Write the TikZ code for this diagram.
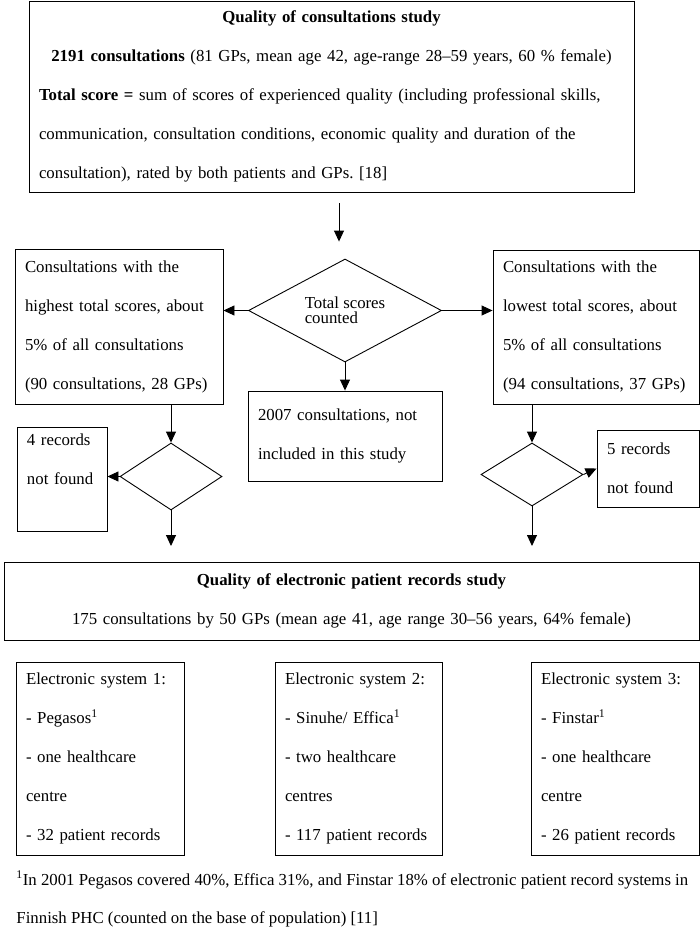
\documentclass[tikz,border=0pt]{standalone}
\usepackage{fontspec}
\setmainfont{Liberation Serif}
\frenchspacing
\usetikzlibrary{arrows.meta,shapes.geometric}
\begin{document}
\begin{tikzpicture}[x=1pt, y=-1pt, line width=0.9pt,
    boxStyle/.style={draw, align=left, inner xsep=10pt, inner ysep=0pt, font=\fontsize{16.8}{39}\selectfont},
    decStyle/.style={draw, diamond, aspect=2, inner sep=0pt, align=left, font=\fontsize{16.8}{15}\selectfont},
    noteStyle/.style={align=left, inner sep=0pt, anchor=west, font=\fontsize{16.8}{38}\selectfont},
    arrowStyle/.style={-{Triangle[length=11pt, width=10pt]}}]
    \useasboundingbox (0,0) rectangle (700,937);

    % first study
    \node[boxStyle, minimum width=605pt, minimum height=191pt, text width=585pt](top) at (331.5, 96.5)
        {\makebox[\linewidth]{\textbf{Quality of consultations study}}\\
         \makebox[\linewidth]{\textbf{2191 consultations} (81 GPs, mean age 42, age-range 28--59 years, 60 \% female)}\\
         \textbf{Total score =} sum of scores of experienced quality (including professional skills,\\
         communication, consultation conditions, economic quality and duration of the\\
         consultation), rated by both patients and GPs. [18]};
    \node[decStyle, minimum width=193pt, minimum height=103pt](count) at (345, 310.5) {Total scores\\counted};
    \node[boxStyle, minimum width=208pt, minimum height=155pt, text width=188pt](high) at (119, 326.5)
        {Consultations with the\\highest total scores, about\\5\% of all consultations\\(90 consultations, 28 GPs)};
    \node[boxStyle, minimum width=206pt, minimum height=154pt, text width=186pt](low) at (596, 327)
        {Consultations with the\\lowest total scores, about\\5\% of all consultations\\(94 consultations, 37 GPs)};
    \node[boxStyle, minimum width=194pt, minimum height=90pt, text width=174pt](rest) at (345, 436)
        {2007 consultations, not\\included in this study};

    % missing records
    \node[decStyle, minimum width=102pt, minimum height=67pt](highDec) at (171, 476.5) {};
    \node[decStyle, minimum width=102pt, minimum height=63pt](lowDec) at (532, 474.5) {};
    \node[boxStyle, minimum width=90pt, minimum height=104pt, text width=70pt](highMiss) at (62, 479)
        {4 records\\not found\\ \mbox{}};
    \node[boxStyle, minimum width=102pt, minimum height=77pt, text width=82pt](lowMiss) at (648, 468.5)
        {5 records\\not found};
    \coordinate (highEnd) at (171, 546);
    \coordinate (lowEnd) at (532, 546);

    % second study
    \node[boxStyle, align=center, minimum width=695pt, minimum height=78pt, text width=675pt](epr) at (351.5, 601)
        {\textbf{Quality of electronic patient records study}\\
         175 consultations by 50 GPs (mean age 41, age range 30--56 years, 64\% female)};
    \node[boxStyle, minimum width=168pt, minimum height=193pt, text width=148pt](sys1) at (100, 758.5)
        {Electronic system 1:\\- Pegasos\textsuperscript{1}\\- one healthcare\\centre\\- 32 patient records};
    \node[boxStyle, minimum width=167pt, minimum height=193pt, text width=147pt](sys2) at (358.5, 758.5)
        {Electronic system 2:\\- Sinuhe/ Effica\textsuperscript{1}\\- two healthcare\\centres\\- 117 patient records};
    \node[boxStyle, minimum width=168pt, minimum height=193pt, text width=148pt](sys3) at (615, 758.5)
        {Electronic system 3:\\- Finstar\textsuperscript{1}\\- one healthcare\\centre\\- 26 patient records};
    \node[noteStyle](note) at (16, 899)
        {\textsuperscript{1}In 2001 Pegasos covered 40\%, Effica 31\%, and Finstar 18\% of electronic patient record systems in\\
         Finnish PHC (counted on the base of population) [11]};

    \draw[arrowStyle, shorten <=11pt, shorten >=17pt] ([xshift=-6pt]top.south -| count.north) -- ([xshift=-6pt]count.north);
    \draw[arrowStyle] (count.west) -- (count.west -| high.east);
    \draw[arrowStyle] (count.east) -- (count.east -| low.west);
    \draw[arrowStyle] (count.south) -- (count.south |- rest.north);
    \draw[arrowStyle] (highDec.north |- high.south) -- (highDec.north);
    \draw[arrowStyle] (highDec.west) -- (highDec.west -| highMiss.east);
    \draw[arrowStyle] (highDec.south) -- (highEnd);
    \draw[arrowStyle] (lowDec.north |- low.south) -- (lowDec.north);
    \draw[arrowStyle] (lowDec.east) -- (lowMiss.west);
    \draw[arrowStyle] (lowDec.south) -- (lowEnd);
\end{tikzpicture}
\end{document}
